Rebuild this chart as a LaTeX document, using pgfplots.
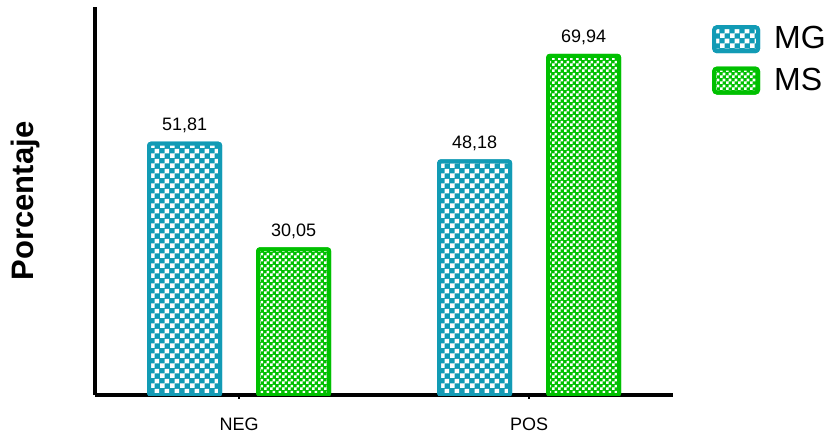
\documentclass[border=0pt]{standalone}
\usepackage{pgfplots}
\pgfplotsset{compat=1.18}
\usepackage{fontspec}
\setmainfont{Liberation Sans}
\usetikzlibrary{patterns.meta}
\definecolor{mgc}{RGB}{18,155,181}
\definecolor{msc}{RGB}{0,192,0}
\pgfdeclarepattern{
  name=checkbig, type=uncolored,
  bottom left={\pgfpoint{0pt}{0pt}}, top right={\pgfpoint{5pt}{5pt}},
  tile size={\pgfpoint{5pt}{5pt}},
  code={
    \pgfpathrectangle{\pgfpointorigin}{\pgfpoint{2.5pt}{2.5pt}}
    \pgfpathrectangle{\pgfpoint{2.5pt}{2.5pt}}{\pgfpoint{2.5pt}{2.5pt}}
    \pgfusepath{fill}
  }
}
\pgfdeclarepattern{
  name=checksmall, type=uncolored,
  bottom left={\pgfpoint{0pt}{0pt}}, top right={\pgfpoint{3pt}{3pt}},
  tile size={\pgfpoint{3pt}{3pt}},
  code={
    \pgfpathrectangle{\pgfpointorigin}{\pgfpoint{1.5pt}{1.5pt}}
    \pgfpathrectangle{\pgfpoint{1.5pt}{1.5pt}}{\pgfpoint{1.5pt}{1.5pt}}
    \pgfusepath{fill}
  }
}
\begin{document}
\begin{tikzpicture}
\useasboundingbox (-47.5pt,-21.5pt) rectangle (366.5pt,197.5pt);
\begin{axis}[
  at={(0pt,0pt)}, anchor=south west,
  scale only axis, width=289pt, height=194pt,
  ybar=19pt, bar width=35.5pt,
  xmin=-0.497, xmax=1.496, ymin=0, ymax=80,
  axis x line=bottom, axis y line=left,
  axis line style={-, line width=2pt, black},
  xtick={0,1}, xticklabels={NEG,POS},
  ytick=\empty,
  tick align=outside, major tick length=2pt,
  tick style={line width=1pt, black},
  xticklabel style={font=\fontsize{9}{11}\selectfont, yshift=-6pt},
  ylabel={Porcentaje},
  ylabel style={at={(axis description cs:-0.121,0.5)}, anchor=center,
    font=\bfseries\fontsize{15.5}{18}\selectfont},
  nodes near coords,
  every node near coord/.append style={font=\fontsize{9}{11}\selectfont, yshift=1pt, black},
  /pgf/number format/.cd, use comma, fixed, fixed zerofill, precision=2, assume math mode=true, /pgfplots/.cd,
  legend style={at={(rel axis cs:1.067,0.961)}, anchor=north west, draw=none, fill=none,
    inner sep=0pt, font=\fontsize{16}{18}\selectfont, row sep=4pt,
    /tikz/every odd column/.append style={column sep=5pt}},
  legend cell align=left,
  legend image code/.code={\draw[#1, rounded corners=1.5pt] (0pt,-6pt) rectangle (22pt,6pt);},
]
\addplot[fill=mgc, draw=mgc, line width=2pt, rounded corners=1pt,
  postaction={pattern={checkbig}, pattern color=white}]
  coordinates {(0,51.81) (1,48.18)};
\addplot[fill=msc, draw=msc, line width=2pt, rounded corners=1pt,
  postaction={pattern={checksmall}, pattern color=white}]
  coordinates {(0,30.05) (1,69.94)};
\legend{MG,MS}
\end{axis}
\end{tikzpicture}
\end{document}
